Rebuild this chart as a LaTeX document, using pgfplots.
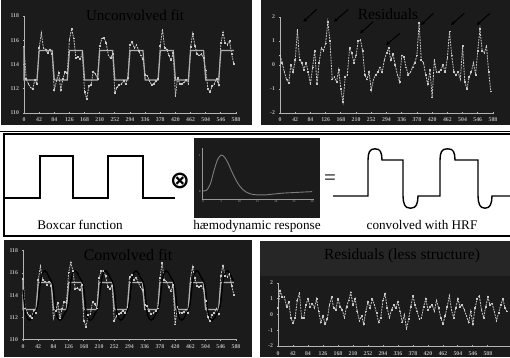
\documentclass[border=0pt]{standalone}
\usepackage{pgfplots}
\pgfplotsset{compat=1.18}
\usepackage{pgfplotstable}
\usepackage{fontspec}
\setmainfont{Liberation Serif}
\newfontfamily\djv{DejaVu Sans}
\usetikzlibrary{arrows.meta}

\definecolor{panel}{RGB}{27,27,27}
\definecolor{band}{RGB}{38,38,38}
\definecolor{axgray}{RGB}{180,180,180}
\definecolor{datgray}{RGB}{200,200,200}
\definecolor{fitgray}{RGB}{175,175,175}
\definecolor{hrfgray}{RGB}{125,125,125}

% measured signal
\pgfplotstableread{
t y
0 115.50
6 112.82
12 112.42
18 112.12
24 111.97
30 112.72
36 112.42
42 115.35
48 116.60
54 115.35
60 115.25
66 114.95
72 115.25
78 114.85
84 111.92
90 112.62
96 113.32
102 111.92
108 112.82
114 113.42
120 113.32
126 116.05
132 116.95
138 116.15
144 114.55
150 114.65
156 114.45
162 114.95
168 111.72
174 111.17
180 112.22
186 112.32
192 113.42
198 113.22
204 112.82
210 115.55
216 116.15
222 116.20
228 115.75
234 114.75
240 114.55
246 114.85
252 111.67
258 112.12
264 112.32
270 112.42
276 112.62
282 112.42
288 112.92
294 115.65
300 115.85
306 115.35
312 115.60
318 115.15
324 114.75
330 114.45
336 113.12
342 113.07
348 112.62
354 112.32
360 112.42
366 112.62
372 112.82
378 115.55
384 116.90
390 115.35
396 115.25
402 114.75
408 114.35
414 114.95
420 111.37
426 112.92
432 112.42
438 112.42
444 112.52
450 112.72
456 112.42
462 115.45
468 116.55
474 115.55
480 114.85
486 114.75
492 114.85
498 114.55
504 113.52
510 112.02
516 111.72
522 112.22
528 112.42
534 112.82
540 112.32
546 115.75
552 116.65
558 115.75
564 115.65
570 115.95
576 114.85
582 114.05
}\sigtab

% boxcar fit
\pgfplotstableread{
t y
0 115.50
0 112.72
36 112.72
42 115.15
78 115.15
84 112.72
120 112.72
126 115.15
162 115.15
168 112.72
204 112.72
210 115.15
246 115.15
252 112.72
288 112.72
294 115.15
330 115.15
336 112.72
372 112.72
378 115.15
414 115.15
420 112.72
456 112.72
462 115.15
498 115.15
504 112.72
540 112.72
546 115.15
582 115.15
}\boxtab

% convolved fit
\pgfplotstableread{
t y
0 114.50
6 112.60
12 111.90
18 111.75
24 111.90
30 112.30
36 112.60
42 113.40
48 115.20
54 116.00
60 116.20
66 116.00
72 115.60
78 115.30
84 114.50
90 112.60
96 111.90
102 111.75
108 111.90
114 112.30
120 112.60
126 113.40
132 115.20
138 116.00
144 116.20
150 116.00
156 115.60
162 115.30
168 114.50
174 112.60
180 111.90
186 111.75
192 111.90
198 112.30
204 112.60
210 113.40
216 115.20
222 116.00
228 116.20
234 116.00
240 115.60
246 115.30
252 114.50
258 112.60
264 111.90
270 111.75
276 111.90
282 112.30
288 112.60
294 113.40
300 115.20
306 116.00
312 116.20
318 116.00
324 115.60
330 115.30
336 114.50
342 112.60
348 111.90
354 111.75
360 111.90
366 112.30
372 112.60
378 113.40
384 115.20
390 116.00
396 116.20
402 116.00
408 115.60
414 115.30
420 114.50
426 112.60
432 111.90
438 111.75
444 111.90
450 112.30
456 112.60
462 113.40
468 115.20
474 116.00
480 116.20
486 116.00
492 115.60
498 115.30
504 114.50
510 112.60
516 111.90
522 111.75
528 111.90
534 112.30
540 112.60
546 113.40
552 115.20
558 116.00
564 116.20
570 116.00
576 115.60
582 115.30
}\convtab

% residuals of boxcar fit
\pgfplotstableread{
t r
0 0.4
6 0.1
12 -0.3
18 -0.6
24 -0.75
30 0.0
36 -0.3
42 0.2
48 1.45
54 0.2
60 0.1
66 -0.2
72 0.1
78 -0.3
84 -0.8
90 -0.1
96 0.6
102 -0.8
108 0.1
114 0.7
120 0.6
126 0.9
132 1.8
138 1.0
144 -0.6
150 -0.5
156 -0.7
162 -0.2
168 -1.0
174 -1.55
180 -0.5
186 -0.4
192 0.7
198 0.5
204 0.1
210 0.4
216 1.0
222 1.05
228 0.6
234 -0.4
240 -0.6
246 -0.3
252 -1.05
258 -0.6
264 -0.4
270 -0.3
276 -0.1
282 -0.3
288 0.2
294 0.5
300 0.7
306 0.2
312 0.45
318 0.0
324 -0.4
330 -0.7
336 0.4
342 0.35
348 -0.1
354 -0.4
360 -0.3
366 -0.1
372 0.1
378 0.4
384 1.75
390 0.2
396 0.1
402 -0.4
408 -0.8
414 -0.2
420 -1.35
426 0.2
432 -0.3
438 -0.3
444 -0.2
450 0.0
456 -0.3
462 0.3
468 1.4
474 0.4
480 -0.3
486 -0.4
492 -0.3
498 -0.6
504 0.8
510 -0.7
516 -1.0
522 -0.5
528 -0.3
534 0.1
540 -0.4
546 0.6
552 1.5
558 0.6
564 0.5
570 0.8
576 -0.3
582 -1.1
}\restab

% residuals of convolved fit
\pgfplotstableread{
t r
0 0.4
6 1.5
12 1.1
18 1.1
24 0.5
30 0.8
36 -0.2
42 -0.55
48 -0.2
54 0.9
60 1.4
66 -0.2
72 -0.2
78 0.6
84 1.0
90 0.5
96 0.7
102 0.4
108 1.0
114 0.2
120 -0.5
126 -0.1
132 -0.6
138 -0.3
144 0.6
150 1.1
156 0.4
162 0.3
168 1.0
174 0.5
180 0.3
186 -0.2
192 0.5
198 0.9
204 1.4
210 0.6
216 1.0
222 0.2
228 -0.4
234 -0.1
240 -0.6
246 0.2
252 0.8
258 0.4
264 1.0
270 0.6
276 0.1
282 -0.5
288 -0.2
294 0.9
300 1.3
306 0.4
312 -0.2
318 0.3
324 0.6
330 0.4
336 0.8
342 0.2
348 -0.5
354 0.0
360 -0.9
366 -0.3
372 0.5
378 1.2
384 0.6
390 0.2
396 -0.3
402 -0.2
408 0.5
414 1.0
420 0.3
426 0.5
432 0.6
438 0.2
444 0.9
450 0.4
456 -0.2
462 -0.6
468 -0.1
474 0.5
480 1.2
486 0.3
492 -0.2
498 0.4
504 1.0
510 0.5
516 0.6
522 0.3
528 -0.1
534 -0.5
540 0.2
546 -0.6
552 0.4
558 1.0
564 1.2
570 0.3
576 -0.2
582 0.5
588 1.1
594 0.6
600 0.7
606 0.2
612 -0.4
618 0.1
624 0.6
630 1.0
636 0.4
642 0.2
}\restwotab

% haemodynamic response
\pgfplotstableread{
t h
0 0.03
1 0.05
2 0.22
3 0.58
4 0.88
5 1.00
6 0.93
7 0.75
8 0.53
9 0.33
10 0.17
11 0.06
12 -0.01
13 -0.05
14 -0.07
15 -0.08
16 -0.08
17 -0.08
18 -0.07
20 -0.05
22 -0.03
24 -0.02
26 -0.01
28 0.00
30 0.01
}\hrftab

% illustrations in the middle strip (page units, y downward negative)
\pgfplotstableread{
x y
4 -198
40 -198
40 -156
73 -156
73 -198
108 -198
108 -156
143 -156
143 -198
175 -198
}\boxill

\pgfplotstableread{
x y
333 -196
368 -196
368 -160
368.4 -155
369.5 -151.5
371.5 -149.5
375 -148.8
378.5 -149.5
380.5 -151.5
381.6 -155
382 -160
403 -160
403 -196
403.4 -201
404.6 -205
406.6 -207.3
410.5 -208.2
414.4 -207.3
416.4 -205
417.6 -201
418 -196
440 -196
440 -160
440.4 -155
441.5 -151.5
443.5 -149.5
447.5 -148.8
451.5 -149.5
453.5 -151.5
454.6 -155
455 -160
478 -160
478 -196
478.4 -201
479.6 -205
481.6 -207.3
485 -208.2
488.4 -207.3
490.4 -205
491.6 -201
492 -196
515 -196
}\convill

\pgfplotsset{
  panel/.style={
    scale only axis, axis lines=left,
    axis line style={-, axgray, line width=0.9pt},
    major tick length=1.6pt, tick style={axgray, line width=0.8pt},
    tick align=center,
    ticklabel style={font=\fontsize{5.8}{6}\selectfont\bfseries, text=axgray, inner sep=1pt},
    /pgf/number format/assume math mode=true,
    clip=false,
    xtick={0,42,...,588},
    xticklabel style={yshift=-2.5pt},
    yticklabel style={xshift=-3pt},
  },
  sig/.style={datgray, line width=0.8pt, dash pattern=on 1.8pt off 1pt,
    mark=square*, mark size=0.4pt, mark options={solid, fill=datgray, draw=datgray}},
}

\begin{document}
\begin{tikzpicture}
\useasboundingbox (0pt,0pt) rectangle (510pt,-357pt);
\fill[white] (0pt,0pt) rectangle (510pt,-357pt);
% panel backgrounds
\fill[panel] (1pt,0pt) rectangle (252pt,-125pt);
\fill[panel] (261pt,0pt) rectangle (510pt,-125pt);
\fill[panel] (4pt,-240pt) rectangle (252pt,-357pt);
\fill[band] (260pt,-241pt) rectangle (510pt,-276pt);
\fill[panel] (260pt,-276pt) rectangle (510pt,-357pt);
% middle strip frame
\draw[line width=0.8pt] (0pt,-131pt) -- (510pt,-131pt);
\draw[line width=1.3pt] (520pt,-134pt) -- (4pt,-134pt) -- (4pt,-236pt) -- (520pt,-236pt);
\fill[panel] (194pt,-138pt) rectangle (320pt,-218pt);

% ---------- top left: unconvolved fit
\begin{axis}[panel, at={(24pt,-113pt)}, anchor=south west,
  width=212pt, height=97pt, xmin=0, xmax=588, ymin=110, ymax=118,
  ytick={110,112,...,118}]
\addplot[sig] table[x=t,y=y] {\sigtab};
\addplot[fitgray, line width=1.2pt] table[x=t,y=y] {\boxtab};
\end{axis}
\node[font=\fontsize{15}{15}\selectfont, text=black] at (135pt,-15pt) {Unconvolved fit};

% ---------- top right: residuals
\begin{axis}[panel, at={(280pt,-113pt)}, anchor=south west,
  width=213pt, height=96pt, xmin=0, xmax=588, ymin=-2, ymax=2,
  ytick={-2,-1,0,1,2}]
\addplot[sig] table[x=t,y=r] {\restab};
\end{axis}
\node[font=\fontsize{15.5}{15.5}\selectfont, text=black] at (388pt,-14pt) {Residuals};
\begin{scope}[line width=1pt, -{Stealth[length=4pt,width=3.5pt]}]
\draw (316.7pt,-9.3pt) -- (303.3pt,-21.7pt);
\draw (348.3pt,-9.3pt) -- (334pt,-21.7pt);
\draw (373.3pt,-21.7pt) -- (360pt,-33.3pt);
\draw (400pt,-33.3pt) -- (386pt,-45pt);
\draw (433.3pt,-13.3pt) -- (421pt,-25pt);
\draw (464.3pt,-13.3pt) -- (451pt,-25pt);
\draw (490pt,-13.3pt) -- (476.7pt,-25pt);
\end{scope}

% ---------- middle: illustrations
\begin{axis}[scale only axis, at={(0pt,-240pt)}, anchor=south west,
  width=510pt, height=110pt, xmin=0, xmax=510, ymin=-240, ymax=-130,
  hide axis, clip=true]
\addplot[black, line width=1.4pt] table[x=x,y=y] {\boxill};
\addplot[black, line width=1.4pt] table[x=x,y=y] {\convill};
\end{axis}
\node[font=\djv\bfseries\fontsize{24}{24}\selectfont, inner sep=0pt] at (180pt,-181pt) {⊗};
\node[font=\fontsize{21}{21}\selectfont] at (330pt,-180pt) {=};

\begin{axis}[scale only axis, at={(202pt,-199pt)}, anchor=south west,
  width=112pt, height=51pt, xmin=-0.3, xmax=30.5, ymin=-0.19, ymax=1.19,
  axis lines=left, axis line style={-, hrfgray!80!white, line width=0.7pt},
  xtick={0,5,...,30}, ytick={0,1}, major tick length=1pt,
  tick style={hrfgray, line width=0.5pt},
  ticklabel style={font=\fontsize{3}{3}\selectfont\bfseries, text=hrfgray, inner sep=0.8pt},
  /pgf/number format/assume math mode=true, clip=false]
\addplot[hrfgray, line width=0.9pt, smooth] table[x=t,y=h] {\hrftab};
\end{axis}

\node[font=\fontsize{13.2}{13}\selectfont, anchor=base] at (80pt,-229pt) {Boxcar function};
\node[font=\fontsize{13.2}{13}\selectfont, anchor=base] at (257pt,-229pt) {hæmodynamic response};
\node[font=\fontsize{13.2}{13}\selectfont, anchor=base] at (422pt,-229pt) {convolved with HRF};

% ---------- bottom left: convolved fit
\begin{axis}[panel, at={(23pt,-339.7pt)}, anchor=south west,
  width=213pt, height=89pt, xmin=0, xmax=588, ymin=110, ymax=118,
  ytick={110,112,...,118}]
\addplot[sig] table[x=t,y=y] {\sigtab};
\addplot[fitgray, line width=1.2pt] table[x=t,y=y] {\boxtab};
\addplot[black, line width=1.3pt, smooth] table[x=t,y=y] {\convtab};
\end{axis}
\node[font=\fontsize{16}{16}\selectfont, text=black] at (128pt,-255pt) {Convolved fit};

% ---------- bottom right: residuals after convolution
\begin{axis}[panel, at={(278pt,-346pt)}, anchor=south west,
  width=232pt, height=63pt, xmin=0, xmax=650, ymin=-2, ymax=2,
  ytick={-2,-1,0,1,2}, xticklabel style={yshift=-1pt}]
\addplot[sig] table[x=t,y=r] {\restwotab};
\end{axis}
\node[font=\fontsize{15.5}{15.5}\selectfont, text=black] at (402pt,-256pt) {Residuals (less structure)};
\end{tikzpicture}
\end{document}
